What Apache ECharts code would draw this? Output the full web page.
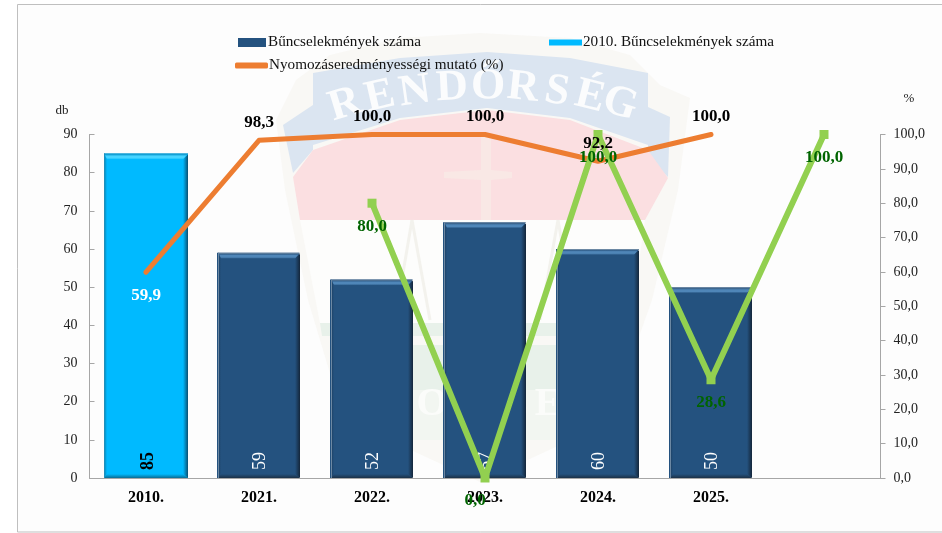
<!DOCTYPE html>
<html><head><meta charset="utf-8">
<style>html,body{margin:0;padding:0;background:#fff}#c{width:942px;height:533px}</style>
<script src="https://cdn.jsdelivr.net/npm/echarts@6/dist/echarts.min.js"></script>
</head><body><div id="c"></div>
<script>
const categories = ['2010.','2021.','2022.','2023.','2024.','2025.',''];
const crimes = [null,59,52,67,60,50,null];
const crimes2010 = [85,null,null,null,null,null,null];
const clearance = [59.9,98.3,100,100,92.2,100,null];
const greenSeries = [null,null,80,0,100,28.6,100];
const leftTicks = {min:0,max:90,interval:10};
const rightTicks = {min:0,max:100,interval:10};
const FONT = '"Liberation Serif","Times New Roman",serif';
const comma = v => v.toFixed(1).replace('.',',');

const chart = echarts.init(document.getElementById('c'),null,{renderer:'canvas'});

const poly = (points,fill) => ({type:'polygon',shape:{points},style:{fill},silent:true,z:-10});
const wmLine = (points) => ({type:'polyline',shape:{points},style:{stroke:'#f3f2ed',lineWidth:3,fill:null},silent:true,z:-9});
const wmLetters = [['R',345,105,17],['E',380,97,13],['N',415,92,8],['D',452,88,3],['Ő',488,87,-1],['R',523,88,-6],['S',557,92,-10],['É',590,97,-14],['G',620,104,-18]];
const wmBottomLetters = [['P',395],['O',432],['L',465],['I',490],['C',515],['E',548]];
const watermark = [
  poly([[296,80],[330,55],[400,38],[480,33],[570,38],[630,55],[660,85],[690,98],[678,190],[652,300],[620,390],[560,445],[480,482],[400,445],[335,390],[308,300],[285,190],[276,120]],'#f9f8f5'),
  poly([[313,73],[400,58],[487,52],[570,58],[648,73],[648,145],[570,118],[487,108],[400,118],[313,145]],'#dbe5f1'),
  poly([[283,125],[313,105],[313,150],[293,173]],'#dbe5f1'),
  poly([[648,107],[670,117],[668,177],[648,158]],'#dbe5f1'),
  poly([[293,177],[313,150],[400,120],[487,110],[570,120],[648,150],[668,178],[645,220],[300,220]],'#fbdfe1'),
  poly([[481,135],[491,135],[491,170],[512,172],[512,178],[491,180],[491,220],[481,220],[481,180],[444,178],[444,172],[481,170]],'#f9e8e5'),
  poly([[300,220],[645,220],[630,323],[320,323]],'#fdfdfc'),
  wmLine([[412,220],[430,320]]),wmLine([[412,220],[395,320]]),wmLine([[558,220],[540,320]]),wmLine([[558,220],[575,320]]),
  poly([[320,323],[630,323],[628,336],[322,336]],'#e8f1ea'),
  poly([[340,345],[625,345],[610,390],[355,390]],'#e8f1ea'),
  poly([[345,390],[622,390],[600,440],[365,440]],'#f2f6f1')
];
const wmText = wmLetters.map(([t,x,y,r]) => ({type:'text',x,y,rotation:r*Math.PI/180,silent:true,z:-9,
  style:{text:t,fill:'#fbfcfd',font:'bold 44px '+FONT,align:'center',verticalAlign:'middle'}}));
const wmBottom = wmBottomLetters.map(([t,x]) => ({type:'text',x,y:405,silent:true,z:-9,
  style:{text:t,fill:'#fbfcfa',font:'bold 40px '+FONT,align:'center',verticalAlign:'middle'}}));

const frame = {type:'rect',shape:{x:17.5,y:4.5,width:960,height:527.5},style:{fill:'#fdfdfd',stroke:'#bfbfbf',lineWidth:1},silent:true,z:-20};

const lg = (x0,y0,x1,y1,stops) => new echarts.graphic.LinearGradient(x0,y0,x1,y1,stops.map((color,i)=>({offset:i/(stops.length-1),color})));
function bevel(params,api){
  const v = api.value(1); if(v==null||isNaN(v)) return;
  const p = api.coord([api.value(0),v]), b = api.coord([api.value(0),0]);
  const cyan = api.value(2) === 1;
  const w = cyan?84:82, x0 = p[0]-w/2, x1 = p[0]+w/2, y0 = p[1], y1 = b[1];
  const c = cyan
    ? {body:'#00baff',top:'#48d4ff',topEdge:'#16a6dc',right:'#0a4f70',left:'#0c7fa9',bottom:'#0a6c93',edge:'#1f8fbc'}
    : {body:'#24527f',top:'#4f86b8',topEdge:'#2c5782',right:'#14263a',left:'#1c3d5e',bottom:'#1b3147',edge:'#6c88a3'};
  const R=5,L=3,B=4;
  return {type:'group',silent:true,children:[
    {type:'polygon',shape:{points:[[x0+1,y0+1],[x1-1,y0+1],[x1-R,y0+6],[x0+L,y0+6]]},style:{fill:lg(0,0,0,1,[c.topEdge,c.top,c.top,c.body])}},
    {type:'polygon',shape:{points:[[x0,y0+1],[x0+L,y0+6],[x0+L,y1-B],[x0,y1]]},style:{fill:lg(0,0,1,0,[c.left,c.body])}},
    {type:'polygon',shape:{points:[[x1,y0+1],[x1-R,y0+6],[x1-R,y1-B],[x1,y1]]},style:{fill:lg(0,0,1,0,[c.body,c.right])}},
    {type:'polygon',shape:{points:[[x0,y1],[x0+L,y1-B],[x1-R,y1-B],[x1,y1]]},style:{fill:lg(0,0,0,1,[c.body,c.bottom])}},
    {type:'rect',shape:{x:x0,y:y0,width:1,height:y1-y0},style:{fill:c.edge}},
    {type:'rect',shape:{x:x0,y:y0,width:w,height:1},style:{fill:c.edge}}
  ]};
}
const bevelData = [...crimes.map((v,i)=>[i,v,0]),...crimes2010.map((v,i)=>[i,v,1])].filter(d=>d[1]!=null);

const barLabel = color => ({show:true,position:'insideBottom',rotate:90,distance:8,align:'left',verticalAlign:'middle',offset:[0,2],
  color,fontFamily:FONT,fontSize:18,fontWeight:color==='#000000'?'bold':'normal'});
const ptLabel = (color,position,extra) => ({show:true,position,distance:10,color,fontFamily:FONT,fontSize:17,fontWeight:'bold',formatter:p=>comma(p.value),...extra});

const orangeLabelData = clearance.map((v,i)=> i===0
  ? {value:v,label:ptLabel('#ffffff','bottom',{distance:14})}
  : v);
const greenData = greenSeries.map(v=> v===0
  ? {value:v,label:ptLabel('#006400','bottom',{distance:10,offset:[-10,0]})}
  : v);
const legendText = pad => ({fontFamily:FONT,fontSize:15.2,color:'#111',padding:pad});

chart.setOption({
  animation:false,
  backgroundColor:'#ffffff',
  textStyle:{fontFamily:FONT},
  graphic:{elements:[frame,...watermark,...wmText,...wmBottom]},
  legend:[
    {left:238,top:35,itemWidth:28,itemHeight:9,itemGap:2,padding:0,icon:'rect',data:['Bűncselekmények száma'],textStyle:legendText([0,0,0,-3])},
    {left:549,top:35,itemWidth:33,itemHeight:6,itemGap:2,padding:0,icon:'rect',data:['2010. Bűncselekmények száma'],textStyle:legendText([0,0,0,-4])},
    {left:235,top:58,itemWidth:33,itemHeight:6,itemGap:2,padding:0,icon:'roundRect',data:['Nyomozáseredményességi mutató (%)'],textStyle:legendText([0,0,0,-4])}
  ],
  grid:{left:89.5,top:134.5,width:791,height:343.5,containLabel:false},
  xAxis:{type:'category',data:categories,boundaryGap:true,
    axisLine:{lineStyle:{color:'#a6a6a6',width:1}},axisTick:{show:false},
    axisLabel:{color:'#000',fontFamily:FONT,fontSize:16,fontWeight:'bold',margin:12,interval:0}},
  yAxis:[
    {type:'value',...leftTicks,position:'left',name:'db',nameLocation:'end',nameGap:17,
      nameTextStyle:{color:'#222',fontFamily:FONT,fontSize:13,align:'right',padding:[0,21,0,0]},
      splitLine:{show:false},axisLine:{show:true,lineStyle:{color:'#a6a6a6'}},
      axisTick:{show:true,inside:true,length:5,lineStyle:{color:'#a6a6a6'}},
      axisLabel:{color:'#222',fontFamily:FONT,fontSize:14,margin:12}},
    {type:'value',...rightTicks,position:'right',name:'%',nameLocation:'end',nameGap:29,
      nameTextStyle:{color:'#222',fontFamily:FONT,fontSize:13,align:'left',padding:[0,0,0,23]},
      splitLine:{show:false},axisLine:{show:true,lineStyle:{color:'#a6a6a6'}},
      axisTick:{show:true,inside:false,length:5,lineStyle:{color:'#a6a6a6'}},
      axisLabel:{color:'#222',fontFamily:FONT,fontSize:14,margin:13,formatter:comma}}
  ],
  series:[
    {name:'Bűncselekmények száma',type:'bar',data:crimes,barWidth:82,barGap:'-100%',itemStyle:{color:'#24527f'},label:barLabel('#ffffff'),z:2},
    {name:'2010. Bűncselekmények száma',type:'bar',data:crimes2010,barWidth:84,barGap:'-100%',itemStyle:{color:'#00baff'},label:barLabel('#000000'),z:2},
    {type:'custom',name:'bevel',renderItem:bevel,data:bevelData,encode:{x:0,y:1},silent:true,z:2.5,clip:false,tooltip:{show:false}},
    {name:'Nyomozáseredményességi mutató (%)',type:'line',yAxisIndex:1,data:clearance,showSymbol:false,symbol:'none',
      lineStyle:{color:'#ed7d31',width:5,cap:'round',join:'round'},itemStyle:{color:'#ed7d31'},z:4},
    {name:'green',type:'line',yAxisIndex:1,data:greenData,symbol:'rect',symbolSize:9,
      lineStyle:{color:'#92d050',width:6},itemStyle:{color:'#92d050'},
      label:ptLabel('#006400','bottom',{distance:10}),z:5},
    {name:'clearanceLabels',type:'line',yAxisIndex:1,data:orangeLabelData,symbol:'circle',symbolSize:1,showSymbol:true,
      lineStyle:{width:0,color:'transparent'},itemStyle:{color:'transparent'},
      label:ptLabel('#000000','top',{distance:9}),z:6}
  ]
});
</script></body></html>
